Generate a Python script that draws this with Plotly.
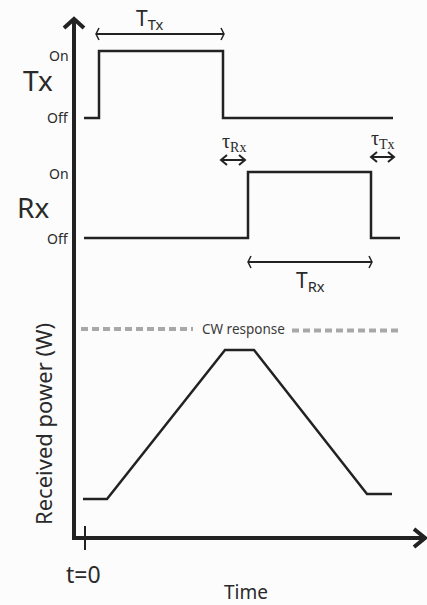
import plotly.graph_objects as go

# ---- data (schematic, pixel-like units: x = time, y = vertical position) ----
t_start = 84
tx_rise, tx_fall, tx_end = 99, 223, 393
rx_rise, rx_fall, rx_end = 248, 371, 400
tx_on, tx_off = 51, 118
rx_on, rx_off = 172, 238

rp_x = [83, 107, 225, 254, 367, 392]
rp_y = [499, 499, 350, 350, 494, 494]

cw_level = 329
cw_x = [81, 401]

axis_x = 74
axis_y = 538
axis_top = 18
axis_right = 425
t0 = 85

BLACK = "#222222"
GRAY = "#a8a8a8"
TEXT = "#2a2a2a"
FONT = "Noto Sans"
SERIF = "Liberation Serif"

fig = go.Figure()

def line(xs, ys, color=BLACK, width=2.5, dash=None):
    fig.add_trace(go.Scatter(x=xs, y=ys, mode="lines",
                             line=dict(color=color, width=width, dash=dash),
                             hoverinfo="skip", showlegend=False))

# Tx waveform
line([t_start, tx_rise, tx_rise, tx_fall, tx_fall, tx_end],
     [tx_off, tx_off, tx_on, tx_on, tx_off, tx_off])
# Rx waveform
line([t_start, rx_rise, rx_rise, rx_fall, rx_fall, rx_end],
     [rx_off, rx_off, rx_on, rx_on, rx_off, rx_off])
# Received power
line(rp_x, rp_y)
# CW response dashed (broken around label)
line([cw_x[0], 193], [cw_level, cw_level], color=GRAY, width=4, dash="7px,4px")
line([292, cw_x[1]], [cw_level + 1.5, cw_level + 1.5], color=GRAY, width=4, dash="7px,4px")

# Main axes
line([axis_x, axis_x], [axis_top + 2, axis_y + 2], width=4)
line([axis_x - 1, axis_right - 2], [axis_y, axis_y], width=4)
# axis arrow chevrons
line([axis_x - 10, axis_x, axis_x + 10], [axis_top + 10, axis_top + 1, axis_top + 10], width=4)
line([axis_right - 11, axis_right, axis_right - 11], [axis_y - 9, axis_y, axis_y + 9], width=4)
# t=0 tick
line([t0, t0], [526, 550], width=2)

# span arrows with bracket ends
def span(x0, x1, y):
    line([x0, x1], [y, y], width=2.2)
    line([x0 + 3, x0, x0 + 3], [y - 6, y, y + 6], width=1.5)
    line([x1 - 3, x1, x1 - 3], [y - 6, y, y + 6], width=1.5)

# double-headed chevron arrows
def darrow(x0, x1, y):
    line([x0, x1], [y, y], width=2)
    line([x0 + 6, x0, x0 + 6], [y - 5, y, y + 5], width=2)
    line([x1 - 6, x1, x1 - 6], [y - 5, y, y + 5], width=2)

span(96, 224, 34)
span(248, 372, 262)
darrow(221, 245, 160)
darrow(371, 394, 157)

def text(x, y, s, size=12, color=TEXT, angle=0, xanchor="center", family=FONT):
    fig.add_annotation(x=x, y=y, xref="x", yref="y", text=s, showarrow=False,
                       font=dict(family=family, size=size, color=color),
                       textangle=angle, xanchor=xanchor, yanchor="middle")

text(150, 19, "T<sub>Tx</sub>", size=21)
text(310, 281, "T<sub>Rx</sub>", size=21)
text(234, 142, "τ<sub>Rx</sub>", size=20, family=SERIF)
text(383, 139, "τ<sub>Tx</sub>", size=20, family=SERIF)

text(71, 55, "On", size=14, xanchor="right")
text(71, 117, "Off", size=14, xanchor="right")
text(38, 80, "Tx", size=28)
text(71, 173, "On", size=14, xanchor="right")
text(71, 238, "Off", size=14, xanchor="right")
text(33, 207, "Rx", size=28)

text(243, 329, "CW response", size=13.5, color="#3a3a3a")
text(43, 424, "Received power (W)", size=22, angle=-90)
text(83, 574, "t=0", size=23)
text(246, 592, "Time", size=19)

fig.update_layout(
    width=427, height=605, autosize=False,
    margin=dict(l=0, r=0, t=0, b=0),
    paper_bgcolor="#fcfcfc", plot_bgcolor="#fcfcfc",
    xaxis=dict(range=[0, 427], visible=False, fixedrange=True),
    yaxis=dict(range=[605, 0], visible=False, fixedrange=True),
    showlegend=False,
)

fig.write_html("out.html")
